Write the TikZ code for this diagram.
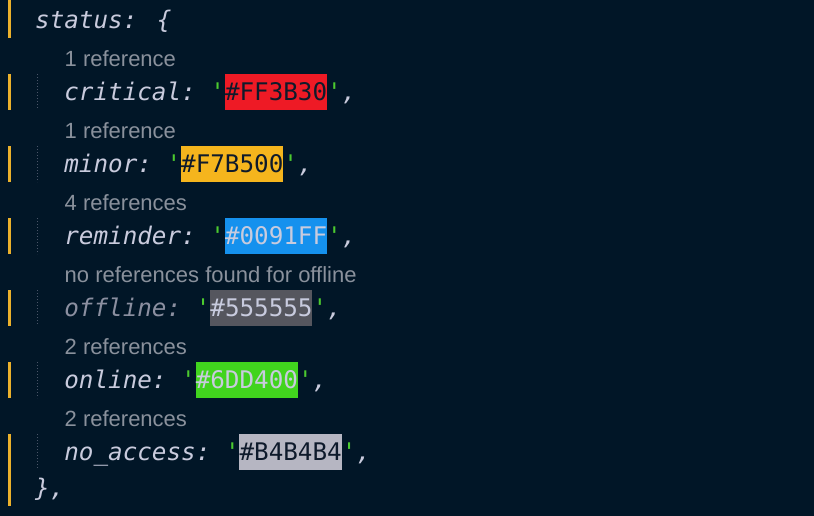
\documentclass[tikz,border=0pt]{standalone}
\usepackage{fontspec}
\newfontfamily\monofnt[Ligatures=TeXOff]{DejaVu Sans Mono}
\newfontfamily\lensfnt{Liberation Sans}
\definecolor{bgc}{HTML}{011627}
\definecolor{keyc}{HTML}{C9CBDD}
\definecolor{dimkey}{HTML}{8B8FA0}
\definecolor{lensc}{HTML}{8A919C}
\definecolor{barc}{HTML}{EBB12C}
\definecolor{guidec}{HTML}{4A5568}
\definecolor{quotec}{HTML}{4CCB2F}
\definecolor{darktxt}{HTML}{0E1A2B}
\definecolor{lighttxt}{HTML}{C8CBDE}
\definecolor{redc}{HTML}{EE1A25}
\definecolor{yelc}{HTML}{F5B51D}
\definecolor{bluec}{HTML}{1591EE}
\definecolor{grayc}{HTML}{55565E}
\definecolor{greenc}{HTML}{41D41E}
\definecolor{lgrayc}{HTML}{B6B6C2}
\tikzset{
  keytext/.style={anchor=base west, inner sep=0pt, text=keyc,
    font=\monofnt\itshape\fontsize{24.25}{30}\selectfont},
  hextext/.style={anchor=base west, inner sep=0pt,
    font=\monofnt\fontsize{24.25}{30}\selectfont},
  quotetext/.style={anchor=base west, inner sep=0pt, text=quotec,
    font=\monofnt\fontsize{24.25}{30}\selectfont},
  lenstext/.style={anchor=base west, inner sep=0pt, text=lensc,
    font=\lensfnt\fontsize{22}{26}\selectfont},
  guide/.style={draw=guidec, line width=0.9pt, dash pattern=on 1pt off 2pt},
  barfill/.style={fill=barc},
}
\newcommand\kvline[7]{%
  \pgfmathsetmacro\ytop{36*#1+2}%
  \pgfmathsetmacro\ybot{36*#1+38}%
  \pgfmathsetmacro\ybase{36*#1+28.5}%
  \pgfmathsetmacro\xq{64.2+(#3+2)*14.6}%
  \pgfmathsetmacro\xh{64.2+(#3+3)*14.6}%
  \pgfmathsetmacro\xe{64.2+(#3+10)*14.6}%
  \pgfmathsetmacro\xc{64.2+(#3+11)*14.6}%
  \fill[#4] (\xh,\ytop) rectangle (\xe,\ybot);
  \node[keytext, text=#7] (key#1) at (64.2,\ybase) {#2:};
  \node[quotetext] (qa#1) at (\xq,\ybase) {'};
  \node[hextext, text=#5] (hex#1) at (\xh,\ybase) {\##6};
  \node[quotetext] (qb#1) at (\xe,\ybase) {'};
  \node[keytext] (comma#1) at (\xc,\ybase) {,};
  \draw[guide] (37,\ytop) -- (37,\ybot);
  \fill[barfill] (8,\ytop) rectangle (10.5,\ybot);
}
\newcommand\lensline[2]{%
  \pgfmathsetmacro\ybase{36*#1+30.5}%
  \node[lenstext] (lens#1) at (64.5,\ybase) {#2};
}
\begin{document}
\begin{tikzpicture}[x=1pt,y=-1pt]
\fill[bgc] (0,0) rectangle (814,516);
\useasboundingbox (0,0) rectangle (814,516);
% status line
\fill[barfill] (8,0) rectangle (10.5,38);
\node[keytext] (status) at (35,28.5) {status: \{};
\lensline{1}{1 reference}
\kvline{2}{critical}{8}{redc}{darktxt}{FF3B30}{keyc}
\lensline{3}{1 reference}
\kvline{4}{minor}{5}{yelc}{darktxt}{F7B500}{keyc}
\lensline{5}{4 references}
\kvline{6}{reminder}{8}{bluec}{lighttxt}{0091FF}{keyc}
\lensline{7}{no references found for offline}
\kvline{8}{offline}{7}{grayc}{lighttxt}{555555}{dimkey}
\lensline{9}{2 references}
\kvline{10}{online}{6}{greenc}{lighttxt}{6DD400}{keyc}
\lensline{11}{2 references}
\kvline{12}{no\_access}{9}{lgrayc}{darktxt}{B4B4B4}{keyc}
% closing line
\fill[barfill] (8,470) rectangle (10.5,506);
\node[keytext] (close) at (35,496.5) {\},};
\end{tikzpicture}
\end{document}
